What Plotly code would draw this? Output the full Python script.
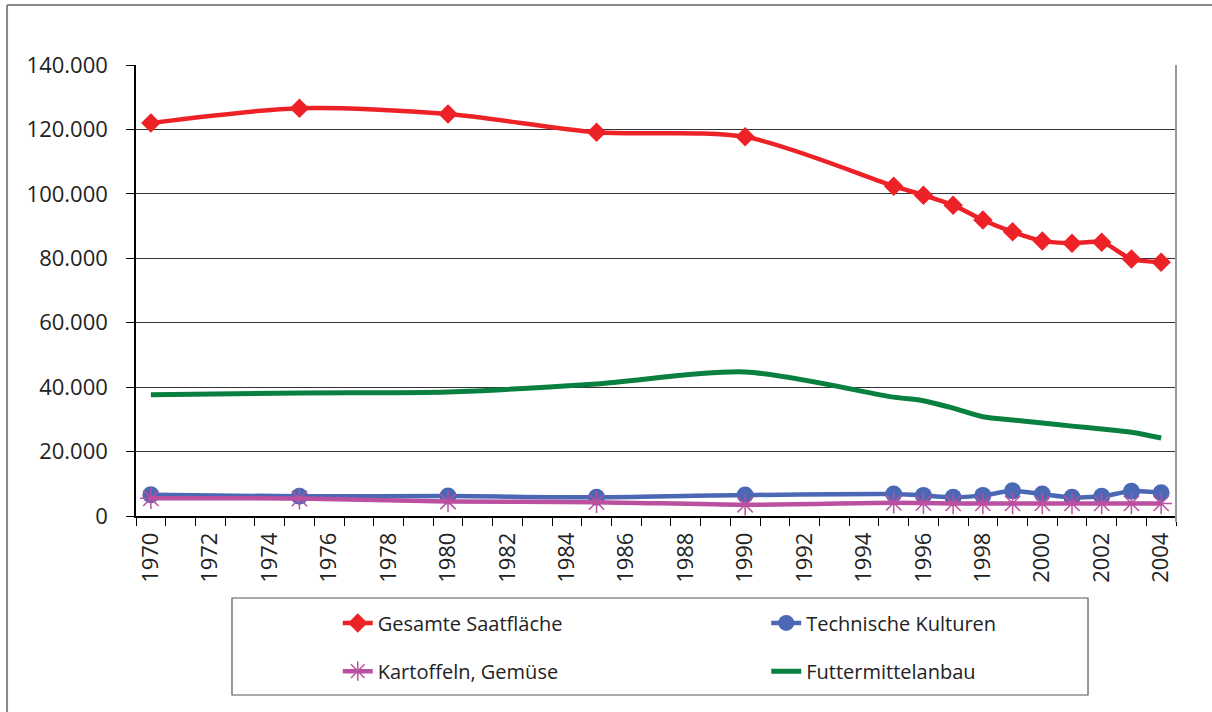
import plotly.graph_objects as go

years = [1970, 1975, 1980, 1985, 1990, 1995, 1996, 1997, 1998, 1999, 2000, 2001, 2002, 2003, 2004]

gesamte = [122000, 126600, 124800, 119100, 117700, 102400, 99600, 96500, 91900, 88200, 85400, 84700, 85000, 79800, 78800]
technische = [6600, 6100, 6200, 5800, 6500, 6800, 6400, 5800, 6400, 7800, 6800, 5800, 6100, 7700, 7200]
kartoffeln = [5500, 5400, 4500, 4300, 3500, 4100, 4000, 3900, 3900, 3900, 3900, 3900, 3900, 3900, 3900]
futter = [37600, 38200, 38500, 41000, 44700, 36900, 35800, 33500, 30800, 29800, 28900, 27900, 27000, 26000, 24200]

tick_years = list(range(1970, 2005, 2))
minor_ticks = [1969.5 + i for i in range(36)]
y_ticks = list(range(0, 140001, 20000))

FONT = "Open Sans"

fig = go.Figure()

fig.add_trace(go.Scatter(
    x=years, y=gesamte, name="Gesamte Saatfläche", mode="lines+markers",
    line=dict(color="#ED2227", width=4.5, shape="spline", smoothing=0.8),
    marker=dict(symbol="diamond", size=15, color="#ED2227"),
    legend="legend",
))
fig.add_trace(go.Scatter(
    x=years, y=technische, name="Technische Kulturen", mode="lines+markers",
    line=dict(color="#4A68B4", width=4.5, shape="spline", smoothing=0.8),
    marker=dict(symbol="circle", size=17, color="#4A68B4"),
    legend="legend2",
))
fig.add_trace(go.Scatter(
    x=years, y=kartoffeln, name="Kartoffeln, Gemüse", mode="lines+markers",
    line=dict(color="#BB4FA0", width=4.5, shape="spline", smoothing=0.8),
    marker=dict(symbol="asterisk-open", size=18, line=dict(color="#BB4FA0", width=1.5)),
    legend="legend3",
))
fig.add_trace(go.Scatter(
    x=years, y=futter, name="Futtermittelanbau", mode="lines",
    line=dict(color="#0A8040", width=5, shape="spline", smoothing=0.8),
    legend="legend4",
))

leg_common = dict(bgcolor="rgba(0,0,0,0)", font=dict(family=FONT, size=20, color="#222"),
                  yanchor="middle", xanchor="left", orientation="h")

fig.update_layout(
    width=1212, height=712,
    margin=dict(l=136, r=36, t=65, b=196),
    paper_bgcolor="white", plot_bgcolor="white",
    separators=",.",
    font=dict(family=FONT, color="#222"),
    showlegend=True,
    legend=dict(x=0.194, y=-0.237, **leg_common),
    legend2=dict(x=0.606, y=-0.237, **leg_common),
    legend3=dict(x=0.194, y=-0.344, **leg_common),
    legend4=dict(x=0.606, y=-0.344, **leg_common),
    xaxis=dict(
        range=[1969.5, 2004.5], tickmode="array", tickvals=tick_years,
        ticktext=[str(y) for y in tick_years], tickangle=-90,
        ticks="", showgrid=False, zeroline=False,
        showline=True, linecolor="black", linewidth=1.5,
        tickfont=dict(family=FONT, size=22, color="#222"),
        ticklabelstandoff=6,
        minor=dict(tickmode="array", tickvals=minor_ticks, ticks="outside",
                   ticklen=8, tickcolor="black", tickwidth=1, showgrid=False),
    ),
    yaxis=dict(
        range=[0, 140000], tickmode="array", tickvals=y_ticks, tickformat=",d",
        showgrid=True, gridcolor="#333", gridwidth=1, zeroline=False,
        showline=True, linecolor="black", linewidth=1.5,
        ticks="outside", ticklen=8, tickcolor="black",
        tickfont=dict(family=FONT, size=22, color="#222"),
        ticklabelstandoff=14,
    ),
    shapes=[
        dict(type="line", xref="paper", yref="paper", x0=1, x1=1, y0=-0.014, y1=1,
             line=dict(color="#999", width=2)),
        dict(type="rect", xref="paper", yref="paper", x0=0.0923, x1=0.9154, y0=-0.3969, y1=-0.1818,
             line=dict(color="#555", width=1.2), fillcolor="rgba(0,0,0,0)"),
        dict(type="line", xref="paper", yref="paper", x0=-0.124, x1=-0.124, y0=-0.45, y1=1.133,
             line=dict(color="#888", width=2)),
        dict(type="line", xref="paper", yref="paper", x0=-0.124, x1=1.05, y0=1.133, y1=1.133,
             line=dict(color="#888", width=2)),
    ],
)

fig.write_html("out.html", config={"displayModeBar": False},
               post_script="document.body.style.margin='0';document.body.style.overflow='hidden';")
